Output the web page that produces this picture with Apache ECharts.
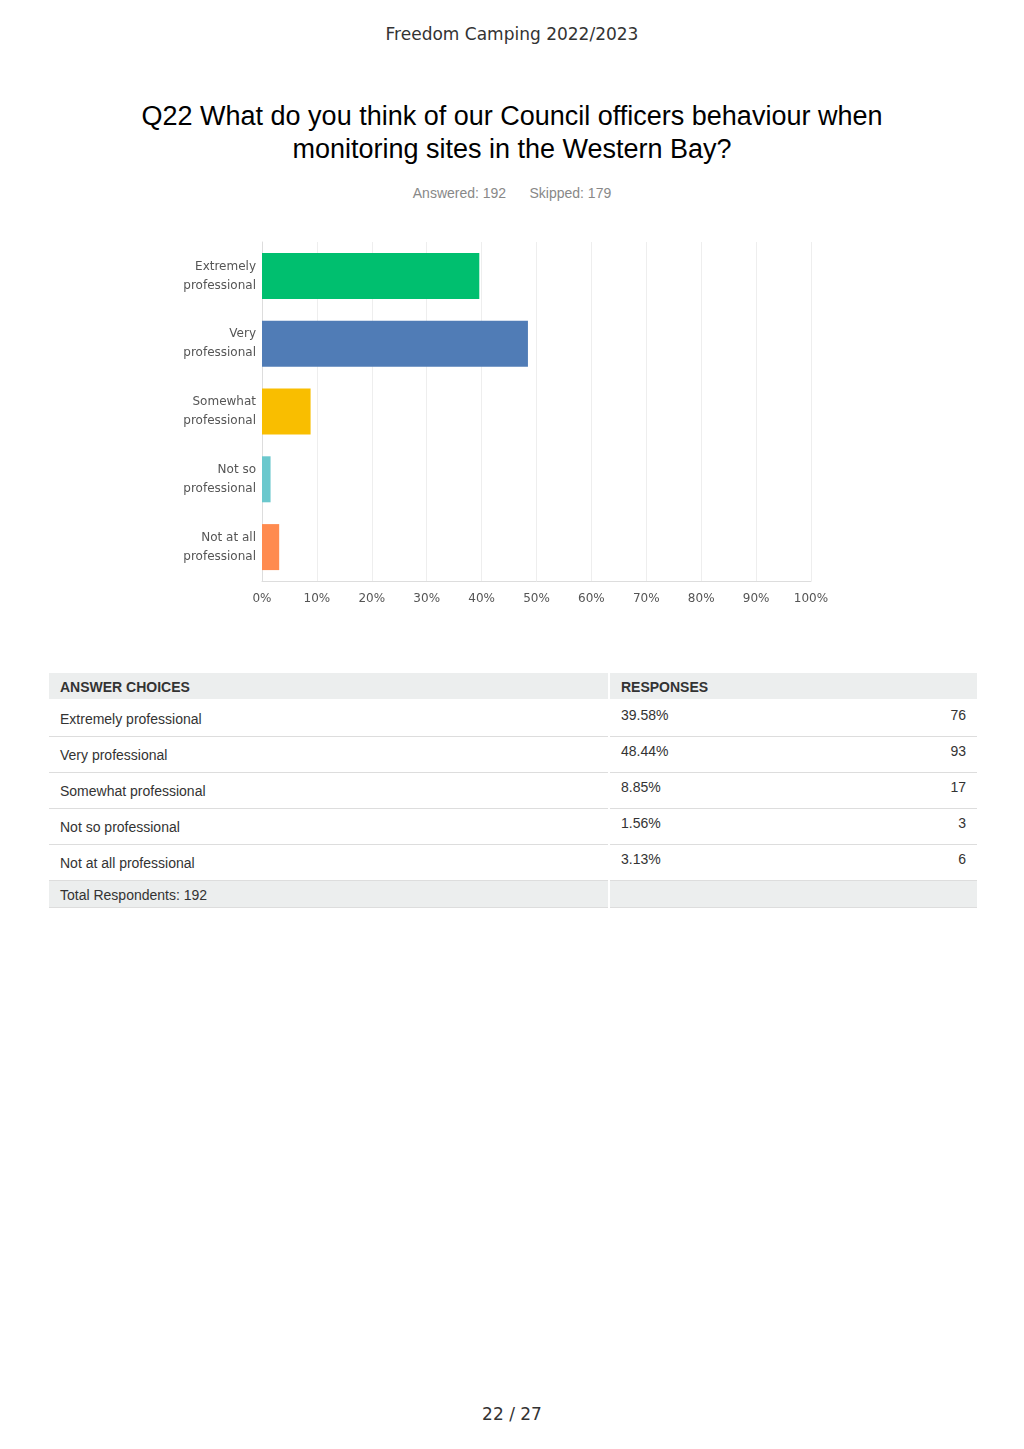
<!DOCTYPE html>
<html><head><meta charset="utf-8">
<script src="https://cdn.jsdelivr.net/npm/echarts@6/dist/echarts.min.js"></script>
<style>
body{margin:0;width:1024px;height:1449px;background:#fff;position:relative;font-family:"Liberation Sans",Arial,sans-serif;}
.abs{position:absolute;}
#hdr{top:24px;left:0;width:1024px;text-align:center;font-family:"DejaVu Sans";font-size:17px;color:#333;}
#title{top:100px;left:100px;width:824px;text-align:center;font-size:27px;line-height:33px;color:#000;}
#sub{top:185px;left:0;width:1024px;text-align:center;font-size:14px;color:#888;}
#chart{top:230px;left:0;width:1024px;height:390px;}
table{position:absolute;top:673px;left:49px;width:928px;border-collapse:collapse;font-size:14px;color:#333;}
td{padding:0 11px;border-bottom:1px solid #ddd;height:36px;vertical-align:top;padding-top:10px;box-sizing:border-box;}
tr.h td{background:#eceeee;font-weight:bold;height:27px;padding-top:6px;border-bottom:2px solid #fff;}
tr.t td{background:#eceeee;height:27px;padding-top:6px;}
td.c1{width:560px;border-right:2px solid #fff;}
tr.r td.c2{padding-top:6px;}
#foot{top:1404px;left:0;width:1024px;text-align:center;font-family:"DejaVu Sans";font-size:17px;color:#333;}
</style></head><body>
<div id="hdr" class="abs">Freedom Camping 2022/2023</div>
<div id="title" class="abs">Q22 What do you think of our Council officers behaviour when monitoring sites in the Western Bay?</div>
<div id="sub" class="abs">Answered: 192&nbsp;&nbsp;&nbsp;&nbsp;&nbsp;&nbsp;Skipped: 179</div>
<div id="chart" class="abs"></div>
<table id="tbl"></table>
<div id="foot" class="abs">22 / 27</div>
<script>
const categories=["Extremely\nprofessional","Very\nprofessional","Somewhat\nprofessional","Not so\nprofessional","Not at all\nprofessional"];
const choices=["Extremely professional","Very professional","Somewhat professional","Not so professional","Not at all professional"];
const percents=[39.58,48.44,8.85,1.56,3.13];
const counts=[76,93,17,3,6];
const colors=["#00bf6f","#507cb6","#f9be00","#6bc8cd","#ff8b4f"];

const chart=echarts.init(document.getElementById('chart'));
chart.setOption({
  animation:false,
  grid:{left:262,right:213,top:12,bottom:39},
  xAxis:{type:'value',min:0,max:100,interval:10,
    axisLabel:{formatter:'{value}%',color:'#555',fontFamily:'DejaVu Sans',fontSize:12,margin:12},
    splitLine:{lineStyle:{color:'#eee'}},axisLine:{show:true,lineStyle:{color:'#ddd'}},axisTick:{show:false}},
  yAxis:{type:'category',inverse:true,data:categories,
    axisLabel:{color:'#555',fontFamily:'DejaVu Sans',fontSize:12,lineHeight:19,align:'right',margin:6},
    axisLine:{lineStyle:{color:'#ddd'}},axisTick:{show:false}},
  series:[{type:'bar',barWidth:46,
    data:percents.map((v,i)=>({value:v,itemStyle:{color:colors[i]}}))}]
});

let h='<tr class="h"><td class="c1">ANSWER CHOICES</td><td colspan="2">RESPONSES</td></tr>';
choices.forEach((c,i)=>{h+=`<tr class="r"><td class="c1">${c}</td><td class="c2">${percents[i].toFixed(2)}%</td><td class="c2" style="text-align:right">${counts[i]}</td></tr>`;});
h+='<tr class="t"><td class="c1">Total Respondents: 192</td><td colspan="2"></td></tr>';
document.getElementById('tbl').innerHTML=h;
</script>
</body></html>
